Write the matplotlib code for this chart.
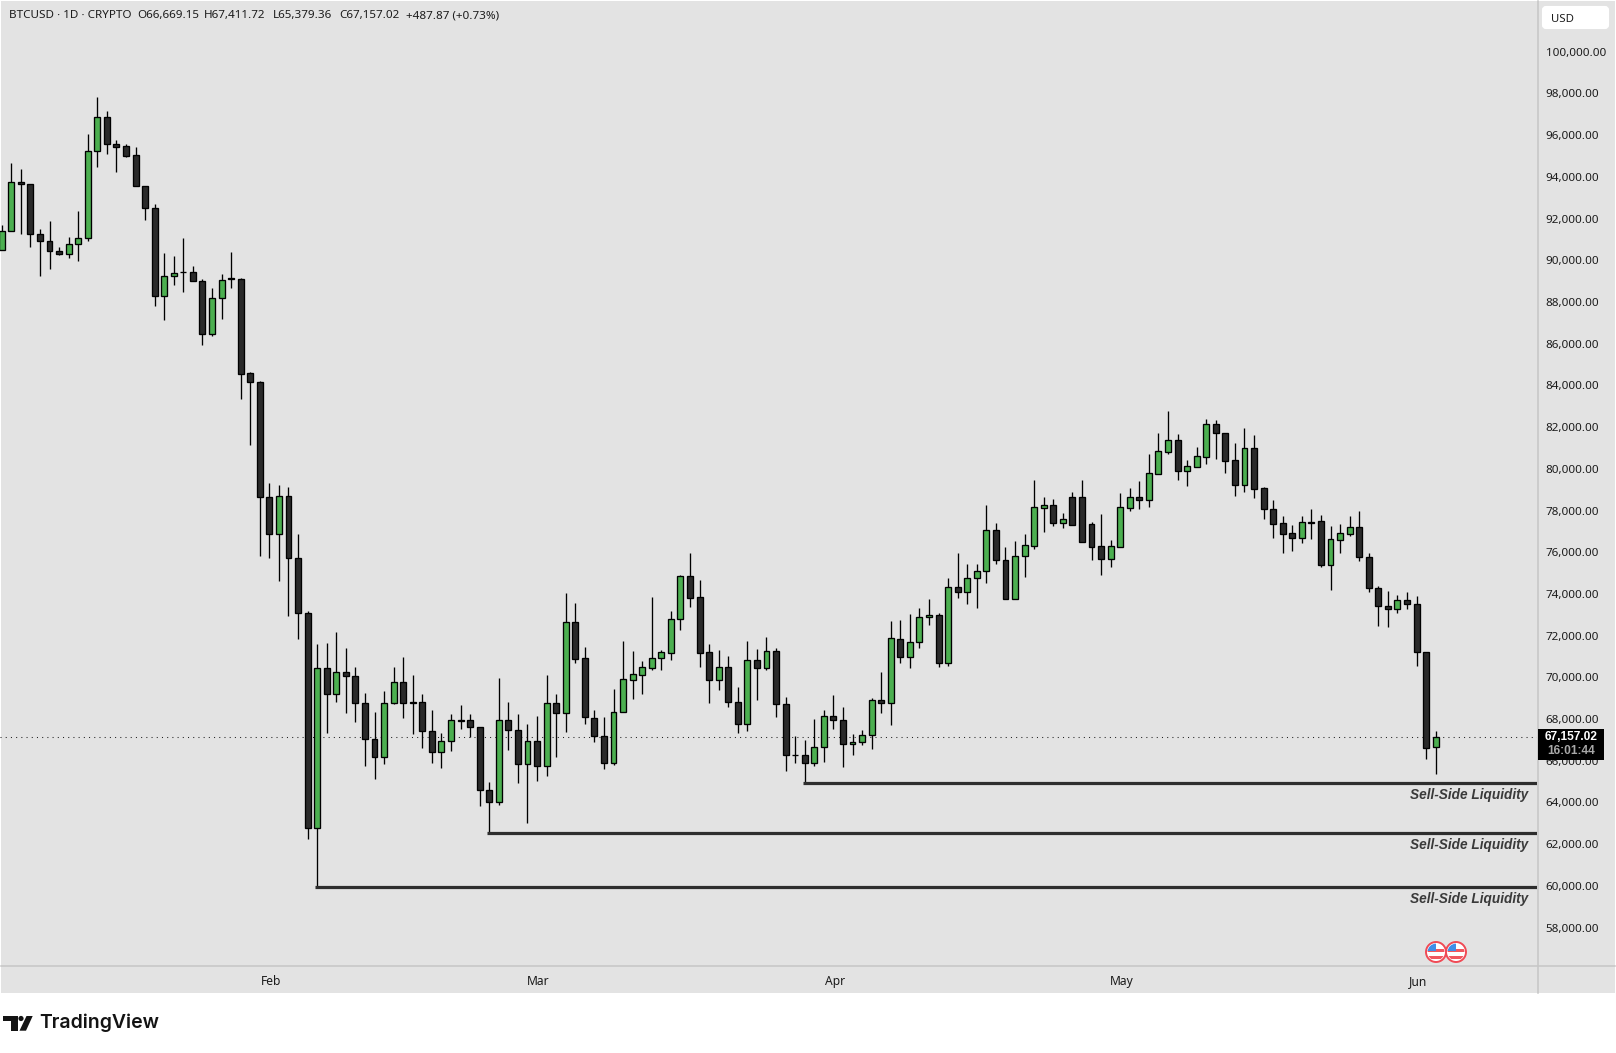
import matplotlib
matplotlib.use('Agg')
import numpy as np
import matplotlib.pyplot as plt
from matplotlib.patches import Rectangle, Circle, Polygon, FancyBboxPatch
from matplotlib.transforms import ScaledTranslation

opens = [90511, 91423, 93775, 93679, 91279, 90943, 90463, 90303, 90799, 91087,
         95215, 96847, 95551, 95455, 95023, 93583, 92527, 88303, 89263, 89455,
         89455, 89023, 86479, 88207, 89135, 89119, 84580, 84150, 78663, 76875,
         78698, 75722, 73074, 62771, 70425, 69203, 70270, 70081, 68791, 67054,
         66176, 68773, 69754, 68825, 68825, 67432, 66417, 66950, 67965, 67965,
         67621, 64594, 64009, 67965, 67483, 65832, 66950, 65729, 68791, 68292,
         72678, 70906, 68074, 67210, 65898, 68346, 69882, 70122, 70458, 70906,
         71178, 72778, 74842, 73834, 71194, 69882, 70474, 68826, 67770, 70810,
         70458, 71242, 68746, 66298, 66298, 65898, 66666, 68170, 67978, 66810,
         66906, 67242, 68938, 68778, 71859, 70979, 71699, 72899, 73011, 70691,
         74355, 74099, 74771, 75107, 77043, 75651, 73763, 75827, 76307, 78131,
         78243, 77411, 78627, 78627, 77331, 76275, 75683, 76259, 78131, 78627,
         78515, 79763, 80819, 81363, 79907, 80099, 80579, 82131, 81699, 80403,
         79235, 80979, 79059, 78051, 77379, 76899, 76691, 77459, 77475, 75395,
         76595, 76883, 77187, 75795, 74307, 73443, 73283, 73731, 73539, 71235,
         66669.15]
closes = [91423, 93775, 93663, 91263, 90943, 90463, 90303, 90799, 91087, 95215,
          96847, 95551, 95439, 95007, 93583, 92527, 88303, 89263, 89407, 89423,
          89023, 86479, 88207, 89071, 89103, 84563, 84150, 78663, 76875, 78698,
          75722, 73074, 62771, 70425, 69203, 70270, 70063, 68773, 67054, 66176,
          68791, 69754, 68773, 68773, 67415, 66417, 66950, 67965, 67930, 67621,
          64577, 64009, 67965, 67466, 65832, 66950, 65729, 68791, 68292, 72678,
          70889, 68103, 67210, 65898, 68362, 69898, 70138, 70474, 70906, 71194,
          72778, 74842, 73818, 71178, 69882, 70474, 68826, 67770, 70810, 70458,
          71242, 68730, 66282, 66266, 65898, 66682, 68170, 67962, 66810, 66922,
          67258, 68938, 68778, 71866, 70979, 71715, 72915, 73011, 70691, 74355,
          74099, 74787, 75123, 77043, 75635, 73763, 75843, 76323, 78147, 78243,
          77411, 77571, 77315, 76499, 76259, 75683, 76275, 78147, 78627, 78515,
          79779, 80835, 81363, 79907, 80115, 80595, 82131, 81699, 80387, 79235,
          80979, 79043, 78051, 77363, 76883, 76691, 77427, 77411, 75395, 76611,
          76899, 77187, 75779, 74291, 73427, 73283, 73731, 73523, 71219, 66611,
          67157.02]
highs = [91679, 94687, 94367, 93679, 91487, 91871, 90655, 91103, 92351, 96031,
         97807, 97135, 95743, 95551, 95423, 93583, 92719, 90367, 90223, 91087,
         89743, 89119, 88687, 89359, 90415, 89167, 84632, 84202, 79334, 79231,
         79145, 76875, 73160, 71577, 71629, 72196, 71388, 70476, 69272, 68343,
         69358, 70476, 70958, 70098, 69186, 68412, 67312, 68257, 68653, 68223,
         67621, 64972, 69960, 68842, 68223, 67741, 68171, 70098, 69221, 74037,
         73555, 71440, 68458, 68122, 69418, 71722, 71242, 70762, 73834, 71290,
         73162, 74906, 75946, 74650, 71578, 71290, 71002, 69514, 71722, 71338,
         71914, 71386, 69082, 67210, 67018, 68026, 68458, 69178, 68602, 67306,
         67498, 69034, 70234, 72682, 72771, 73059, 73347, 73779, 73107, 74787,
         75987, 75427, 75459, 78243, 77379, 76227, 76515, 76851, 79443, 78627,
         78531, 77859, 78867, 79443, 77427, 77811, 76563, 78819, 79059, 79395,
         80691, 81699, 82755, 81651, 80403, 81027, 82371, 82323, 81699, 81219,
         81939, 81603, 79107, 78483, 77715, 77283, 77715, 78051, 77763, 77235,
         77331, 77715, 77955, 75971, 74403, 74163, 73971, 74115, 73923, 71235,
         67411.72]
lows = [90511, 91423, 91263, 90639, 89247, 89583, 90255, 90111, 89967, 90927,
        94479, 95103, 94239, 94959, 93583, 91935, 87807, 87135, 88831, 88479,
        89007, 85935, 86367, 87183, 88671, 83359, 81140, 75843, 75705, 74604,
        72953, 71852, 62272, 59933, 67328, 68842, 68275, 67879, 65729, 65110,
        65832, 68705, 68051, 67277, 66589, 65884, 65643, 66451, 67518, 67157,
        63837, 62513, 63889, 66538, 64955, 63028, 65041, 65282, 66193, 67397,
        70683, 67741, 66906, 65610, 65802, 68346, 68970, 69210, 70362, 70362,
        70842, 72282, 73386, 70506, 68778, 69402, 68586, 67338, 67434, 68922,
        70362, 68106, 65514, 65898, 64906, 65738, 65946, 67530, 65706, 66282,
        66762, 66554, 68298, 67722, 70691, 70451, 71411, 72515, 70499, 70547,
        73811, 73523, 73331, 74531, 75443, 73763, 73763, 74819, 76163, 76979,
        77267, 77171, 77315, 76499, 75635, 74915, 75299, 76259, 77987, 78083,
        78179, 79763, 80723, 79475, 79187, 80099, 80243, 80483, 79811, 78707,
        78899, 78611, 77603, 76691, 75971, 76067, 76451, 76643, 75299, 74195,
        75971, 76787, 75587, 74099, 72467, 72419, 73091, 73283, 70547, 66083,
        65379.36]

price_ticks = list(range(58000, 100001, 2000))
month_labels = ['Feb', 'Mar', 'Apr', 'May', 'Jun']
month_bars = [28, 56, 87, 117, 148]
liq_levels = [64920, 62523, 59933]
liq_starts = [84, 51, 33]
liq_text_y = [64360, 61960, 59375]
last_close = closes[-1]

W, H = 1616, 1053
BG = '#e3e3e3'
GREEN = '#4caf50'
DARK = '#2a2a2a'
LINE = '#c6c6c6'
TXT = '#1c1c1c'
AXFONT = 'Noto Sans'

fig = plt.figure(figsize=(W/100, H/100), dpi=100, facecolor='white')


def pixel_axes(z):
    a = fig.add_axes([0, 0, 1, 1], zorder=z)
    a.set_xlim(0, W)
    a.set_ylim(H, 0)
    a.axis('off')
    return a


# panels behind the chart
under = pixel_axes(0)
under.add_patch(Rectangle((1, 1), W-2, 992, fc=BG, ec='none'))
under.plot([1, W-1], [966, 966], color=LINE, lw=1.1)
under.plot([1537.7, 1537.7], [1, 993], color=LINE, lw=1.1)

# price chart
ax = fig.add_axes([0, (H-966)/H, 1537.2/W, 966/H], zorder=1)
ax.patch.set_alpha(0)
ax.set_xlim(-0.178, 160.62)
ax.set_ylim(56160, 102479)
for s in ax.spines.values():
    s.set_visible(False)

x = np.arange(len(opens))
o = np.array(opens)
c = np.array(closes)
colors = [GREEN if c[i] >= o[i] else DARK for i in x]

ax.axhline(last_close, color='#222222', lw=0.75, linestyle=(0, (1, 4)), zorder=1)
ax.vlines(x, lows, highs, color='black', lw=0.95, zorder=2)
ax.bar(x, np.abs(c-o), bottom=np.minimum(o, c), width=0.62, color=colors,
       edgecolor='black', linewidth=0.95, zorder=3)

for lvl, st, ty in zip(liq_levels, liq_starts, liq_text_y):
    ax.plot([st-0.2, 160.62], [lvl, lvl], color='#2e2e2e', lw=2.3, solid_capstyle='butt', zorder=4)
    ax.text(159.72, ty, 'Sell-Side Liquidity', ha='right', va='center', color='#3a3a3a',
            fontsize=9.8, fontweight='bold', style='italic', family='Liberation Sans')

ax.yaxis.tick_right()
ax.set_yticks(price_ticks)
ax.set_yticklabels([f'{p:,.2f}' for p in price_ticks], family=AXFONT, fontsize=8.4, color=TXT)
ax.tick_params(axis='y', length=0, pad=6)
ax.set_xticks(month_bars)
ax.set_xticklabels(month_labels, family=AXFONT, fontsize=8.7, color=TXT, fontweight='medium')
ax.tick_params(axis='x', length=0, pad=6.5)
nudge = ScaledTranslation(1.5/100, 0, fig.dpi_scale_trans)
for lab in ax.get_xticklabels():
    lab.set_transform(lab.get_transform() + nudge)

# overlay: header, badge, flags, logo
top = pixel_axes(2)
header = [(9, 'BTCUSD · 1D · CRYPTO'), (137, 'O66,669.15'), (204, 'H67,411.72'),
          (273, 'L65,379.36'), (339, 'C67,157.02'), (406, '+487.87 (+0.73%)')]
for hx, t in header:
    top.text(hx, 15.7, t, ha='left', va='center', family=AXFONT, fontsize=8.4, color=TXT)

top.add_patch(FancyBboxPatch((1543, 7), 65, 21, boxstyle='round,pad=0,rounding_size=3',
                             fc='white', ec='white', lw=1.5))
top.text(1551, 19, 'USD', ha='left', va='center', family=AXFONT, fontsize=8.2, color=TXT)

top.add_patch(Rectangle((1538, 729), 66, 31, fc='black', ec='none'))
top.text(1571.5, 737, '67,157.02', ha='center', va='center', family='Liberation Sans', fontsize=8.6,
         color='white', fontweight='bold')
top.text(1571.5, 751, '16:01:44', ha='center', va='center', family='Liberation Sans', fontsize=8.6,
         color='#a8a8a8', fontweight='bold')

for fx in [1436, 1456]:
    ring = Circle((fx, 952), 10, fc='white', ec='#f04a55', lw=1.4, zorder=5)
    top.add_patch(ring)
    clip = Circle((fx, 952), 8.4, transform=top.transData)
    for yy in [949, 955.5]:
        r = Rectangle((fx-9, yy), 18, 3.2, fc='#f0565f', ec='none', zorder=6)
        top.add_patch(r)
        r.set_clip_path(clip)
    r = Rectangle((fx-9, 943), 9, 8, fc='#3f8ee8', ec='none', zorder=7)
    top.add_patch(r)
    r.set_clip_path(clip)

# tradingview mark
top.add_patch(Polygon([(3.3, 1016), (17.5, 1016), (17.5, 1030.7), (11, 1030.7), (11, 1021), (3.3, 1021)],
                      fc='#131313', ec='none'))
top.add_patch(Circle((21, 1018.5), 2.6, fc='#131313', ec='none'))
top.add_patch(Polygon([(26.5, 1016), (32.7, 1016), (26, 1030.7), (19.5, 1030.7)], fc='#131313', ec='none'))
top.text(39.5, 1023, 'TradingView', ha='left', va='center', family='Inter', fontsize=14,
         fontweight='semibold', color='#131313')

plt.savefig('out.png', dpi=100, facecolor='white')
